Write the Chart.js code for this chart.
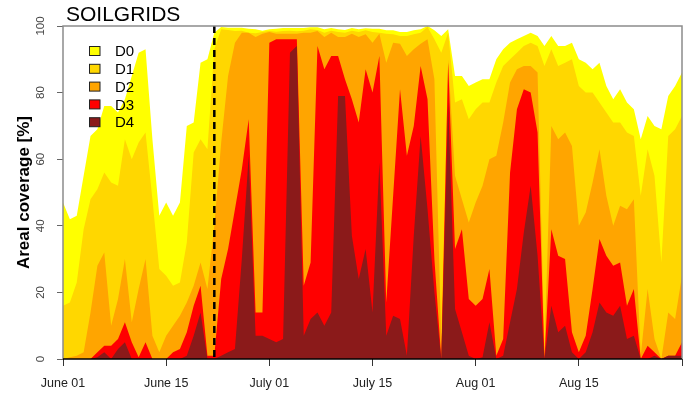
<!DOCTYPE html>
<html>
<head>
<meta charset="utf-8">
<script src="https://cdn.jsdelivr.net/npm/chart.js@4.4.0/dist/chart.umd.min.js"></script>
<style>
  html, body { margin: 0; padding: 0; background: #fff; }
  #chart { display: block; }
</style>
</head>
<body>
<canvas id="chart" width="692" height="397"></canvas>
<script>
// daily areal coverage (%) per drought class, June 01 .. Aug 30 (day 0..90)
// each class is cumulative: D0 >= D1 >= D2 >= D3 >= D4
const d0 = [
  47, 42, 43, 55, 67, 69, 76, 76, 74, 78,
  85, 92, 93, 66, 43, 47, 43, 47, 70, 71,
  89, 90, 98, 99.7, 99.5, 99.5, 99.5, 99.2, 99, 98.6,
  99, 99.2, 99.4, 99.4, 99.4, 99.4, 99.6, 99.6, 99, 99.4,
  99, 98.8, 99.4, 99, 99.3, 99.2, 99.2, 98.7, 98.7, 98.2,
  98.2, 98.7, 99, 100, 98.7, 97, 99, 85, 85, 82,
  83, 84, 84, 90, 93, 95, 96, 97, 98, 97,
  94, 97, 94, 94, 95, 90, 89, 87, 89, 82,
  78, 81, 77, 75, 66, 73, 70, 69, 79, 82,
  86
];
const d1 = [
  16, 17, 23, 39, 48, 51, 56, 53, 52, 66,
  60, 65, 68, 48, 27, 25, 22, 23, 35, 62,
  66, 63, 93, 99, 98.8, 98.5, 98.6, 98, 97.8, 98.2,
  98.5, 98.3, 98.5, 98.6, 98.4, 98.6, 99, 98.8, 98, 98.6,
  98.2, 98, 98.6, 98.2, 98.7, 98.2, 98, 97.7, 97.5, 97,
  97, 97.5, 98, 99.7, 96, 92, 98, 77, 78, 72,
  75, 77, 77, 83, 88, 90, 92, 94, 95, 94,
  88, 93, 88, 89, 90, 82, 80, 80, 77, 74,
  71, 71, 68, 67, 49, 63, 55, 29, 67, 69,
  73
];
const d2 = [
  0, 0.5, 1, 2, 14, 28, 32, 10, 18, 30,
  11, 21, 30, 7, 2, 7, 10, 13, 17, 22,
  29, 21, 40, 65, 85, 95, 98, 98, 96.7, 97.7,
  98.2, 97.7, 97.7, 97.7, 97.7, 98, 98, 98.5, 96.7, 98,
  96.7, 96.7, 97.7, 96.7, 97.5, 95, 97.7, 89, 95, 94.7,
  91, 93, 94.7, 96, 84, 5, 90, 55, 48, 41,
  47, 52, 60, 61, 71, 83, 87, 88, 88, 86,
  2, 70, 66, 68, 64, 40, 44, 53, 63, 49,
  40, 46, 45, 48, 1, 21, 6, 0, 14, 12,
  25
];
const d3 = [
  0, 0, 0, 0, 0, 2, 4, 4, 6, 11,
  5, 0.5, 5, 0, 0, 0, 2, 3, 8, 16,
  22, 1, 1, 24, 33, 45, 57, 72, 14, 14,
  95, 96, 96, 96, 96, 22, 29, 94, 87, 91,
  91, 84, 78, 71, 87, 80, 91, 17, 49, 81,
  61, 70, 88, 78, 30, 0, 89, 33, 39, 18,
  16, 18, 27, 1, 6, 56, 75, 81, 80, 68,
  0, 39, 31, 30, 8, 2, 7, 21, 36, 31,
  28, 29, 16, 21, 0, 4, 2, 0, 1, 1,
  5
];
const d4 = [
  0, 0, 0, 0, 0, 0.5, 2, 0, 3, 5,
  0, 0, 0, 0, 0, 0, 0, 0, 1, 7,
  14, 0, 0, 1, 2, 3, 30, 61, 7, 7,
  6, 5, 6, 92, 94, 7, 12, 14, 10, 14,
  79, 79, 37, 24, 33, 14, 59, 7, 13, 12,
  1, 37, 67, 45, 20, 0, 77, 15, 8, 1,
  0, 0.5, 11, 0, 1, 11, 21, 38, 52, 31,
  0, 16, 8, 10, 2, 0, 2, 8, 17, 14,
  13, 16, 6, 7, 0, 0, 1, 0, 1, 1,
  1
];

const classes = ['D0', 'D1', 'D2', 'D3', 'D4'];
const colors = ['#FFFF00', '#FFD700', '#FFA500', '#FF0000', '#8B1A1A'];
const tickDays = [0, 15, 30, 45, 60, 75, 90];
const tickLabels = ['June 01', 'June 15', 'July 01', 'July 15', 'Aug 01', 'Aug 15', ''];
const yTicks = [0, 20, 40, 60, 80, 100];
const dashDay = 22;

const days = d0.map((v, i) => i);
const series = [d0, d1, d2, d3, d4];

const FONT = "'Liberation Sans', Arial, Helvetica, sans-serif";

// everything drawn on top of the areas: dashed marker, frame, legend, texts
const overlay = {
  id: 'overlay',
  afterDatasetsDraw(chart) {
    const { ctx, chartArea: a, scales: { x } } = chart;
    ctx.save();

    const dx = x.getPixelForValue(dashDay);
    ctx.strokeStyle = '#000';
    ctx.lineWidth = 2.5;
    ctx.setLineDash([7, 5]);
    ctx.beginPath();
    ctx.moveTo(dx, a.top);
    ctx.lineTo(dx, a.bottom);
    ctx.stroke();
    ctx.setLineDash([]);

    ctx.strokeStyle = '#8c8c8c';
    ctx.lineWidth = 1.5;
    ctx.beginPath();
    ctx.moveTo(a.left, a.bottom);
    ctx.lineTo(a.left, a.top);
    ctx.lineTo(a.right, a.top);
    ctx.lineTo(a.right, a.bottom);
    ctx.stroke();

    ctx.strokeStyle = '#000';
    ctx.lineWidth = 1.5;
    ctx.beginPath();
    ctx.moveTo(a.left, a.bottom);
    ctx.lineTo(a.right, a.bottom);
    ctx.stroke();

    // legend
    ctx.font = '15px ' + FONT;
    ctx.textBaseline = 'middle';
    ctx.textAlign = 'left';
    classes.forEach((c, i) => {
      const cy = 51 + i * 17.8;
      ctx.fillStyle = colors[i];
      ctx.fillRect(89, cy - 4.5, 11, 9);
      ctx.strokeStyle = '#222';
      ctx.lineWidth = 1;
      ctx.strokeRect(89.5, cy - 4.5, 10.5, 9);
      ctx.fillStyle = '#000';
      ctx.fillText(c, 115, cy + 1);
    });
    ctx.restore();
  },
  afterDraw(chart) {
    const { ctx, chartArea: a, scales: { y } } = chart;
    ctx.save();

    ctx.fillStyle = '#000';
    ctx.font = '21px ' + FONT;
    ctx.textAlign = 'left';
    ctx.textBaseline = 'alphabetic';
    ctx.fillText('SOILGRIDS', 66, 21);

    // rotated y tick labels
    ctx.fillStyle = '#444';
    ctx.font = '11.5px ' + FONT;
    ctx.textAlign = 'center';
    yTicks.forEach(v => {
      ctx.save();
      ctx.translate(44, y.getPixelForValue(v));
      ctx.rotate(-Math.PI / 2);
      ctx.fillText(String(v), 0, 0);
      ctx.restore();
    });

    ctx.fillStyle = '#000';
    ctx.font = 'bold 17px ' + FONT;
    ctx.translate(29, (a.top + a.bottom) / 2);
    ctx.rotate(-Math.PI / 2);
    ctx.fillText('Areal coverage [%]', 0, 0);
    ctx.restore();
  }
};

new Chart(document.getElementById('chart').getContext('2d'), {
  type: 'line',
  data: {
    labels: days,
    datasets: series.map((s, i) => ({
      label: classes[i],
      data: s,
      backgroundColor: colors[i],
      borderWidth: 0,
      pointRadius: 0,
      tension: 0,
      fill: 'origin',
      order: classes.length - i
    }))
  },
  options: {
    responsive: false,
    animation: false,
    devicePixelRatio: 1,
    layout: { padding: { top: 26, right: 9, left: 0, bottom: 0 } },
    plugins: {
      legend: { display: false },
      tooltip: { enabled: false }
    },
    scales: {
      x: {
        type: 'linear',
        min: 0,
        max: 90,
        afterBuildTicks: s => { s.ticks = tickDays.map(v => ({ value: v })); },
        afterFit: s => { s.height = 38; },
        ticks: {
          autoSkip: false,
          maxRotation: 0,
          padding: 10,
          color: '#222',
          font: { family: FONT, size: 12.5 },
          callback: (v, i) => tickLabels[i]
        },
        grid: { drawOnChartArea: false, drawTicks: true, tickLength: 7, color: '#333' },
        border: { display: false }
      },
      y: {
        min: 0,
        max: 100,
        afterBuildTicks: s => { s.ticks = yTicks.map(v => ({ value: v })); },
        afterFit: s => { s.width = 63; },
        ticks: { display: false },
        grid: { drawOnChartArea: false, drawTicks: true, tickLength: 6, color: '#666' },
        border: { display: false }
      }
    }
  },
  plugins: [overlay]
});
</script>
</body>
</html>
